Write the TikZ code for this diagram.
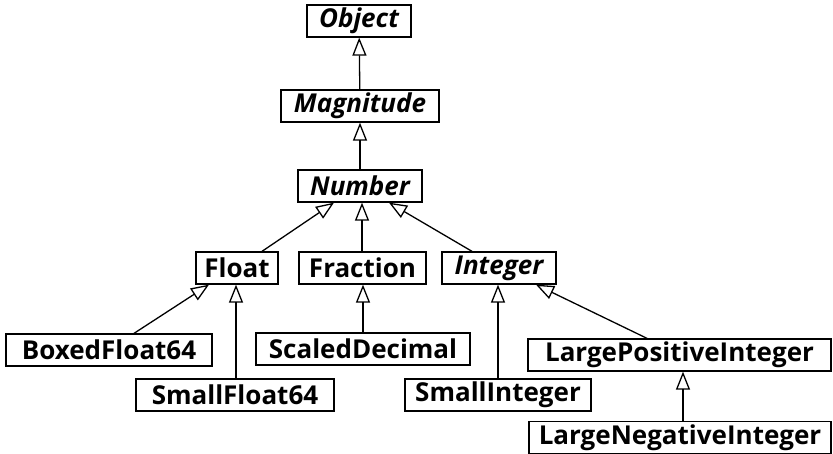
\documentclass[tikz,border=0pt]{standalone}
\usepackage{fontspec}
\setmainfont{Open Sans}
\usepackage{tikz}
\usetikzlibrary{arrows.meta}
\tikzset{
  cls/.style={draw=black, line width=1.3pt, minimum height=32pt, inner sep=0pt,
    font=\fontsize{26}{30}\selectfont\bfseries},
  abscls/.style={cls, font=\fontsize{26}{30}\selectfont\bfseries\itshape},
  inherit/.style={-{Triangle[open, length=18pt, width=14pt, line width=1.3pt]},
    line width=1.3pt, draw=black},
}

\begin{document}
\begin{tikzpicture}[x=1pt,y=-1pt]
\useasboundingbox (0,0) rectangle (833,454);
% abstract top of the tree
\node[abscls, minimum width=104pt] (object) at (359,21) {Object};
\node[abscls, minimum width=158pt] (magnitude) at (360,106) {Magnitude};
\node[abscls, minimum width=124pt] (number) at (360,186) {Number};
% number kinds
\node[cls, minimum width=82pt] (float) at (237,268) {Float};
\node[cls, minimum width=127pt] (fraction) at (362.5,268) {Fraction};
\node[abscls, minimum width=114pt] (integer) at (499,268) {Integer};
% concrete leaves
\node[cls, minimum width=206pt] (boxed) at (109,350) {BoxedFloat64};
\node[cls, minimum width=198pt] (smallfloat) at (235,395) {SmallFloat64};
\node[cls, minimum width=214pt] (scaled) at (363,349) {ScaledDecimal};
\node[cls, minimum width=303pt] (largepos) at (679.5,355) {LargePositiveInteger};
\node[cls, minimum width=186pt] (smallint) at (498,395) {SmallInteger};
\node[cls, minimum width=302pt] (largeneg) at (680,437.5) {LargeNegativeInteger};
% inheritance links
\draw[inherit] (magnitude) -- (object);
\draw[inherit] (number) -- (magnitude);
\draw[inherit] ([xshift=25pt]float.north) -- ([xshift=-26pt]number.south);
\draw[inherit] (fraction.north -| number.south) ++(2pt,0) -- ([xshift=2pt]number.south);
\draw[inherit] ([xshift=-27pt]integer.north) -- ([xshift=29pt]number.south);
\draw[inherit] ([xshift=25pt]boxed.north) -- ([xshift=-28pt]float.south);
\draw[inherit] ([xshift=1pt]smallfloat.north) -- ([xshift=-1pt]float.south);
\draw[inherit] (scaled) -- (scaled |- fraction.south);
\draw[inherit] (smallint) -- (smallint |- integer.south);
\draw[inherit] ([xshift=-32.5pt]largepos.north) -- ([xshift=37pt]integer.south);
\draw[inherit] ([xshift=3pt]largeneg.north) -- ([xshift=3.5pt]largepos.south);
\end{tikzpicture}
\end{document}
